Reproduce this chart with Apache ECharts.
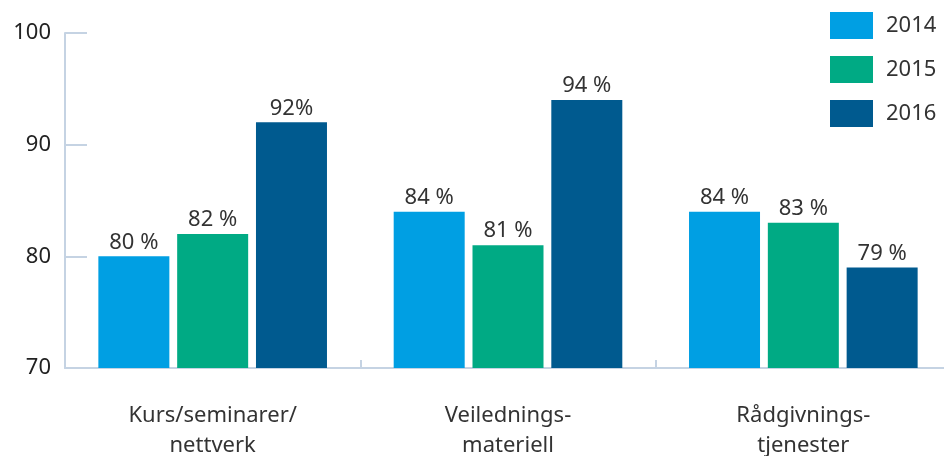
<!DOCTYPE html>
<html>
<head>
<meta charset="utf-8">
<script src="https://cdn.jsdelivr.net/npm/echarts@6/dist/echarts.min.js"></script>
<style>
  html, body { margin: 0; padding: 0; background: #fff; }
  #chart { width: 944px; height: 456px; }
</style>
</head>
<body>
<div id="chart"></div>
<script>
// Categories and yearly shares (percent)
const categories = ["Kurs/seminarer/\nnettverk", "Veilednings-\nmateriell", "Rådgivnings-\ntjenester"];
const years = ["2014", "2015", "2016"];
const values2014 = [80, 84, 84];
const values2015 = [82, 81, 83];
const values2016 = [92, 94, 79];
// Printed value labels as they appear above each bar
const labels2014 = ["80 %", "84 %", "84 %"];
const labels2015 = ["82 %", "81 %", "83 %"];
const labels2016 = ["92%", "94 %", "79 %"];
const yTicks = { min: 70, max: 100, step: 10 };

const colors = ["#009fe3", "#00aa84", "#005a8f"];
const fontFamily = "'Source Sans Pro', 'Noto Sans', sans-serif";
const fontSize = 22;
const axisColor = "#c5d3e3";

function barSeries(name, values, labels, color) {
  return {
    name: name,
    type: "bar",
    data: values,
    barWidth: 71,
    barGap: "11%",
    itemStyle: { color: color },
    label: {
      show: true,
      position: "top",
      distance: 3,
      color: "#333",
      fontSize: fontSize,
      fontFamily: fontFamily,
      formatter: p => labels[p.dataIndex]
    }
  };
}

const chart = echarts.init(document.getElementById("chart"), null, { renderer: "canvas" });
chart.setOption({
  animation: false,
  backgroundColor: "#fff",
  grid: { left: 65, right: -7, top: 33, bottom: 88, containLabel: false, outerBoundsMode: "none" },
  legend: {
    orient: "vertical",
    left: 830,
    top: 12,
    padding: 0,
    itemWidth: 43,
    itemHeight: 27,
    itemGap: 17,
    icon: "rect",
    data: years,
    textStyle: { fontSize: fontSize, color: "#333", fontFamily: fontFamily, padding: [0, 0, 0, 8] }
  },
  xAxis: {
    type: "category",
    data: categories,
    axisLine: { lineStyle: { color: axisColor, width: 2 } },
    axisTick: { show: true, inside: true, length: 8, lineStyle: { color: axisColor, width: 2 } },
    axisLabel: {
      color: "#333",
      fontSize: fontSize,
      fontFamily: fontFamily,
      lineHeight: 30,
      margin: 33
    }
  },
  yAxis: {
    type: "value",
    min: yTicks.min,
    max: yTicks.max,
    interval: yTicks.step,
    axisLine: { show: true, lineStyle: { color: axisColor, width: 2 } },
    axisTick: { show: true, inside: true, length: 22, lineStyle: { color: axisColor, width: 2 } },
    splitLine: { show: false },
    axisLabel: { color: "#222", fontSize: fontSize, fontFamily: fontFamily, margin: 14 }
  },
  series: [
    barSeries(years[0], values2014, labels2014, colors[0]),
    barSeries(years[1], values2015, labels2015, colors[1]),
    barSeries(years[2], values2016, labels2016, colors[2])
  ]
});
</script>
</body>
</html>
